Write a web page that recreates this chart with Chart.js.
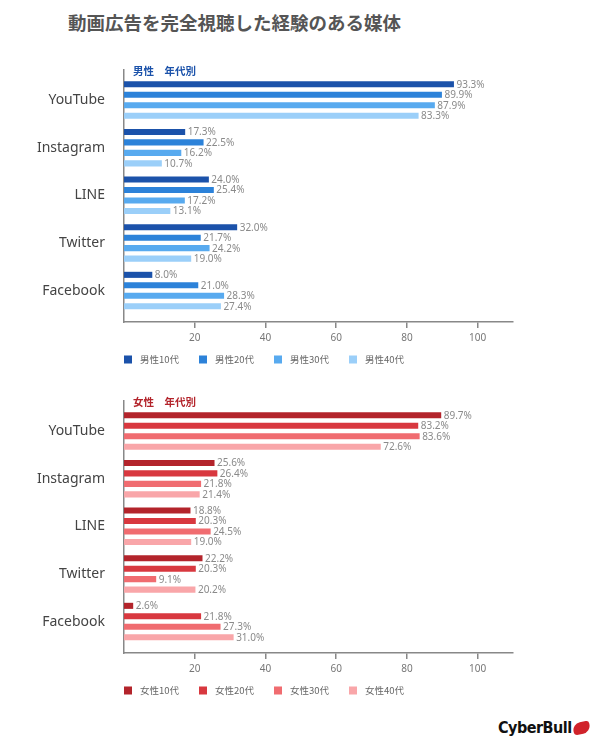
<!doctype html>
<html lang="ja">
<head>
    <meta charset="utf-8">
    <title>動画広告を完全視聴した経験のある媒体</title>
    <style>
        body {
            margin: 0;
            background: #fff;
            font-family: "Noto Sans CJK JP", "Noto Sans", sans-serif;
        }
        #page {
            position: relative;
            width: 590px;
            height: 750px;
        }
        h1 {
            position: absolute;
            left: 68px;
            top: 12px;
            margin: 0;
            font-size: 18.5px;
            line-height: 20px;
            font-weight: 700;
            color: #555;
        }
        .chartBox {
            position: absolute;
            left: 0;
            width: 590px;
            height: 320px;
        }
        #maleBox { top: 55px; }
        #femaleBox { top: 386px; }
        #logo {
            position: absolute;
            left: 498px;
            top: 718px;
            font-family: "Liberation Sans Narrow", "DejaVu Sans Condensed", sans-serif;
            font-weight: 700;
            font-size: 16px;
            letter-spacing: -0.5px;
            color: #111;
        }
        #logo span {
            display: inline-block;
            width: 17px;
            height: 12px;
            margin-left: 1px;
            background: #d0232b;
            border-radius: 8px 3px 8px 4px;
            transform: rotate(-12deg);
            vertical-align: -1px;
        }
    </style>
    <script src="https://cdn.jsdelivr.net/npm/chart.js"></script>
</head>
<body>
<div id="page">
    <h1>動画広告を完全視聴した経験のある媒体</h1>
    <div class="chartBox" id="maleBox"><canvas id="maleChart" width="590" height="320"></canvas></div>
    <div class="chartBox" id="femaleBox"><canvas id="femaleChart" width="590" height="320"></canvas></div>
    <div id="logo">CyberBull<span></span></div>
</div>

<script>
    // data (%)
    const media = ['YouTube', 'Instagram', 'LINE', 'Twitter', 'Facebook'];

    const maleLabels = ['男性10代', '男性20代', '男性30代', '男性40代'];
    const male10 = [93.3, 17.3, 24.0, 32.0, 8.0];
    const male20 = [89.9, 22.5, 25.4, 21.7, 21.0];
    const male30 = [87.9, 16.2, 17.2, 24.2, 28.3];
    const male40 = [83.3, 10.7, 13.1, 19.0, 27.4];

    const femaleLabels = ['女性10代', '女性20代', '女性30代', '女性40代'];
    const female10 = [89.7, 25.6, 18.8, 22.2, 2.6];
    const female20 = [83.2, 26.4, 20.3, 20.3, 21.8];
    const female30 = [83.6, 21.8, 24.5, 9.1, 27.3];
    const female40 = [72.6, 21.4, 19.0, 20.2, 31.0];

    const xTicks = [20, 40, 60, 80, 100];

    const maleColors = ['#1b52aa', '#2c82d9', '#58aaef', '#9bcff9'];
    const femaleColors = ['#b3242b', '#d8383f', '#f06c70', '#f9a6a9'];

    // value labels, heading and legend drawn on top of the chart
    const extras = {
        id: 'extras',
        afterDatasetsDraw(chart) {
            const ctx = chart.ctx;
            ctx.save();
            ctx.font = '10px "Noto Sans", sans-serif';
            ctx.fillStyle = '#8a8a8a';
            ctx.textBaseline = 'middle';
            ctx.textAlign = 'left';
            chart.data.datasets.forEach((ds, i) => {
                chart.getDatasetMeta(i).data.forEach((bar, j) => {
                    ctx.fillText(ds.data[j].toFixed(1) + '%', bar.x + 2.5, bar.y + 0.5);
                });
            });
            ctx.restore();
        },
        afterDraw(chart, args, opts) {
            const ctx = chart.ctx;
            const area = chart.chartArea;
            ctx.save();
            ctx.font = 'bold 10.5px "Noto Sans CJK JP", sans-serif';
            ctx.fillStyle = opts.color;
            ctx.textBaseline = 'middle';
            ctx.fillText(opts.heading, area.left + 9, area.top + 1);
            ctx.font = '9.5px "Noto Sans CJK JP", sans-serif';
            chart.data.datasets.forEach((ds, i) => {
                const x = area.left + i * 75;
                const y = area.bottom + 37.5;
                ctx.fillStyle = ds.backgroundColor;
                ctx.fillRect(x, y - 4, 8, 8);
                ctx.fillStyle = '#666';
                ctx.fillText(ds.label, x + 16, y);
            });
            ctx.restore();
        }
    };

    function makeChart(id, labels, series, colors, heading, headColor) {
        const ctx = document.getElementById(id).getContext('2d');
        return new Chart(ctx, {
            type: 'bar',
            data: {
                labels: media,
                datasets: series.map((d, i) => ({
                    label: labels[i],
                    data: d,
                    backgroundColor: colors[i],
                    categoryPercentage: 0.88,
                    barPercentage: 0.58
                }))
            },
            options: {
                indexAxis: 'y',
                responsive: false,
                animation: false,
                layout: { padding: { top: 15, right: 77, bottom: 12, left: 0 } },
                scales: {
                    x: {
                        min: 0,
                        max: 110,
                        afterBuildTicks: s => { s.ticks = xTicks.map(v => ({ value: v })); },
                        afterFit: s => { s.height = 41; },
                        ticks: {
                            padding: 4,
                            color: '#777',
                            font: { size: 10, family: '"Noto Sans", sans-serif' }
                        },
                        grid: {
                            drawOnChartArea: false,
                            drawTicks: true,
                            tickLength: 6,
                            color: '#888',
                            lineWidth: 1.5
                        },
                        border: { color: '#888', width: 1.5 }
                    },
                    y: {
                        // a little extra room above the first and below the last group
                        afterBuildTicks: s => { s._startValue = s.min - 0.63; s._valueRange = 5.29; },
                        afterFit: s => { s.width = 124; },
                        ticks: {
                            padding: 0,
                            color: '#444',
                            font: { size: 14, family: '"Noto Sans", sans-serif' }
                        },
                        grid: { display: false, drawTicks: true, tickLength: 19 },
                        border: { color: '#888', width: 1.5 }
                    }
                },
                plugins: {
                    legend: { display: false },
                    tooltip: { enabled: false },
                    extras: { heading: heading, color: headColor }
                }
            },
            plugins: [extras]
        });
    }

    makeChart('maleChart', maleLabels, [male10, male20, male30, male40], maleColors, '男性　年代別', '#1b52aa');
    makeChart('femaleChart', femaleLabels, [female10, female20, female30, female40], femaleColors, '女性　年代別', '#b3242b');
</script>
</body>
</html>
